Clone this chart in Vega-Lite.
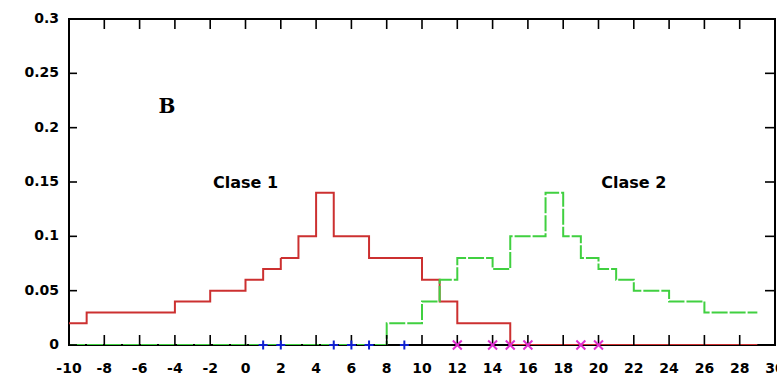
{
  "$schema": "https://vega.github.io/schema/vega-lite/v6.json",
  "width": 706,
  "height": 326,
  "autosize": "none",
  "padding": {"left": 69, "top": 19, "right": 2, "bottom": 34},
  "background": "white",
  "config": {
    "view": {"stroke": "black", "strokeWidth": 2}
  },
  "datasets": {
    "curvas": [
      {"serie": "Clase 1", "x": -10, "y": 0.02},
      {"serie": "Clase 1", "x": -9, "y": 0.03},
      {"serie": "Clase 1", "x": -4, "y": 0.04},
      {"serie": "Clase 1", "x": -2, "y": 0.05},
      {"serie": "Clase 1", "x": 0, "y": 0.06},
      {"serie": "Clase 1", "x": 1, "y": 0.07},
      {"serie": "Clase 1", "x": 2, "y": 0.08},
      {"serie": "Clase 1", "x": 3, "y": 0.10},
      {"serie": "Clase 1", "x": 4, "y": 0.14},
      {"serie": "Clase 1", "x": 5, "y": 0.10},
      {"serie": "Clase 1", "x": 7, "y": 0.08},
      {"serie": "Clase 1", "x": 10, "y": 0.06},
      {"serie": "Clase 1", "x": 11, "y": 0.04},
      {"serie": "Clase 1", "x": 12, "y": 0.02},
      {"serie": "Clase 1", "x": 15, "y": 0},
      {"serie": "Clase 1", "x": 29, "y": 0},
      {"serie": "Clase 2", "x": -10, "y": 0},
      {"serie": "Clase 2", "x": 8, "y": 0.02},
      {"serie": "Clase 2", "x": 10, "y": 0.04},
      {"serie": "Clase 2", "x": 11, "y": 0.06},
      {"serie": "Clase 2", "x": 12, "y": 0.08},
      {"serie": "Clase 2", "x": 14, "y": 0.07},
      {"serie": "Clase 2", "x": 15, "y": 0.10},
      {"serie": "Clase 2", "x": 17, "y": 0.14},
      {"serie": "Clase 2", "x": 18, "y": 0.10},
      {"serie": "Clase 2", "x": 19, "y": 0.08},
      {"serie": "Clase 2", "x": 20, "y": 0.07},
      {"serie": "Clase 2", "x": 21, "y": 0.06},
      {"serie": "Clase 2", "x": 22, "y": 0.05},
      {"serie": "Clase 2", "x": 24, "y": 0.04},
      {"serie": "Clase 2", "x": 26, "y": 0.03},
      {"serie": "Clase 2", "x": 29, "y": 0.03}
    ],
    "muestras": [
      {"clase": "1", "x": 1, "y": 0},
      {"clase": "1", "x": 2, "y": 0},
      {"clase": "1", "x": 5, "y": 0},
      {"clase": "1", "x": 6, "y": 0},
      {"clase": "1", "x": 7, "y": 0},
      {"clase": "1", "x": 9, "y": 0},
      {"clase": "2", "x": 12, "y": 0},
      {"clase": "2", "x": 14, "y": 0},
      {"clase": "2", "x": 15, "y": 0},
      {"clase": "2", "x": 16, "y": 0},
      {"clase": "2", "x": 19, "y": 0},
      {"clase": "2", "x": 20, "y": 0}
    ],
    "marcasX": [
      {"v": -10, "etiqueta": "-10"}, {"v": -8, "etiqueta": "-8"}, {"v": -6, "etiqueta": "-6"},
      {"v": -4, "etiqueta": "-4"}, {"v": -2, "etiqueta": "-2"}, {"v": 0, "etiqueta": "0"},
      {"v": 2, "etiqueta": "2"}, {"v": 4, "etiqueta": "4"}, {"v": 6, "etiqueta": "6"},
      {"v": 8, "etiqueta": "8"}, {"v": 10, "etiqueta": "10"}, {"v": 12, "etiqueta": "12"},
      {"v": 14, "etiqueta": "14"}, {"v": 16, "etiqueta": "16"}, {"v": 18, "etiqueta": "18"},
      {"v": 20, "etiqueta": "20"}, {"v": 22, "etiqueta": "22"}, {"v": 24, "etiqueta": "24"},
      {"v": 26, "etiqueta": "26"}, {"v": 28, "etiqueta": "28"}, {"v": 30, "etiqueta": "30"}
    ],
    "marcasY": [
      {"v": 0, "etiqueta": "0"}, {"v": 0.05, "etiqueta": "0.05"}, {"v": 0.1, "etiqueta": "0.1"},
      {"v": 0.15, "etiqueta": "0.15"}, {"v": 0.2, "etiqueta": "0.2"}, {"v": 0.25, "etiqueta": "0.25"},
      {"v": 0.3, "etiqueta": "0.3"}
    ],
    "rotulos": [
      {"x": 0, "y": 0.149, "texto": "Clase 1"},
      {"x": 22, "y": 0.149, "texto": "Clase 2"}
    ],
    "panel": [
      {"x": -4.45, "y": 0.219, "texto": "B"}
    ]
  },
  "layer": [
    {
      "data": {"name": "curvas"},
      "mark": {"type": "line", "interpolate": "step-after", "strokeWidth": 2, "clip": true},
      "encoding": {
        "x": {
          "field": "x", "type": "quantitative", "axis": null,
          "scale": {"domain": [-10, 30], "nice": false, "zero": false}
        },
        "y": {
          "field": "y", "type": "quantitative", "axis": null,
          "scale": {"domain": [0, 0.3], "nice": false}
        },
        "color": {
          "field": "serie", "type": "nominal",
          "scale": {"domain": ["Clase 1", "Clase 2"], "range": ["#cc3030", "#40d040"]},
          "legend": null
        },
        "strokeDash": {
          "field": "serie", "type": "nominal",
          "scale": {"domain": ["Clase 1", "Clase 2"], "range": [[1, 0], [16, 2]]},
          "legend": null
        }
      }
    },
    {
      "data": {"name": "marcasX"},
      "mark": {"type": "tick", "orient": "vertical", "size": 20, "thickness": 1.6, "color": "black", "opacity": 1, "clip": true},
      "encoding": {
        "x": {"field": "v", "type": "quantitative", "axis": null},
        "y": {"datum": 0, "type": "quantitative", "axis": null}
      }
    },
    {
      "data": {"name": "marcasX"},
      "mark": {"type": "tick", "orient": "vertical", "size": 20, "thickness": 1.6, "color": "black", "opacity": 1, "clip": true},
      "encoding": {
        "x": {"field": "v", "type": "quantitative", "axis": null},
        "y": {"datum": 0.3, "type": "quantitative", "axis": null}
      }
    },
    {
      "data": {"name": "marcasY"},
      "mark": {"type": "tick", "orient": "horizontal", "size": 16, "thickness": 1.6, "color": "black", "opacity": 1, "clip": true},
      "encoding": {
        "y": {"field": "v", "type": "quantitative", "axis": null},
        "x": {"datum": -10, "type": "quantitative", "axis": null}
      }
    },
    {
      "data": {"name": "marcasY"},
      "mark": {"type": "tick", "orient": "horizontal", "size": 20, "thickness": 1.6, "color": "black", "opacity": 1, "clip": true},
      "encoding": {
        "y": {"field": "v", "type": "quantitative", "axis": null},
        "x": {"datum": 30, "type": "quantitative", "axis": null}
      }
    },
    {
      "data": {"name": "marcasX"},
      "mark": {"type": "text", "font": "DejaVu Sans", "fontWeight": "bold", "fontSize": 14, "align": "center", "baseline": "middle", "dy": 24, "color": "black"},
      "encoding": {
        "x": {"field": "v", "type": "quantitative", "axis": null},
        "y": {"datum": 0, "type": "quantitative", "axis": null},
        "text": {"field": "etiqueta"}
      }
    },
    {
      "data": {"name": "marcasY"},
      "mark": {"type": "text", "font": "DejaVu Sans", "fontWeight": "bold", "fontSize": 14, "align": "right", "baseline": "middle", "dx": -10, "color": "black"},
      "encoding": {
        "y": {"field": "v", "type": "quantitative", "axis": null},
        "x": {"datum": -10, "type": "quantitative", "axis": null},
        "text": {"field": "etiqueta"}
      }
    },
    {
      "data": {"name": "muestras"},
      "mark": {"type": "point", "filled": false, "strokeWidth": 2, "opacity": 1},
      "encoding": {
        "x": {"field": "x", "type": "quantitative", "axis": null},
        "y": {"field": "y", "type": "quantitative", "axis": null},
        "shape": {
          "field": "clase", "type": "nominal",
          "scale": {"domain": ["1", "2"], "range": ["M-1,0L1,0M0,-1L0,1", "M-1,-1L1,1M-1,1L1,-1"]},
          "legend": null
        },
        "stroke": {
          "field": "clase", "type": "nominal",
          "scale": {"domain": ["1", "2"], "range": ["#1020d0", "#e030d0"]},
          "legend": null
        },
        "size": {"value": 80}
      }
    },
    {
      "data": {"name": "rotulos"},
      "mark": {"type": "text", "font": "DejaVu Sans", "fontWeight": "bold", "fontSize": 16, "align": "center", "baseline": "middle", "color": "black"},
      "encoding": {
        "x": {"field": "x", "type": "quantitative", "axis": null},
        "y": {"field": "y", "type": "quantitative", "axis": null},
        "text": {"field": "texto"}
      }
    },
    {
      "data": {"name": "panel"},
      "mark": {"type": "text", "font": "DejaVu Serif", "fontWeight": "bold", "fontSize": 20, "align": "center", "baseline": "middle", "color": "black"},
      "encoding": {
        "x": {"field": "x", "type": "quantitative", "axis": null},
        "y": {"field": "y", "type": "quantitative", "axis": null},
        "text": {"field": "texto"}
      }
    }
  ]
}
